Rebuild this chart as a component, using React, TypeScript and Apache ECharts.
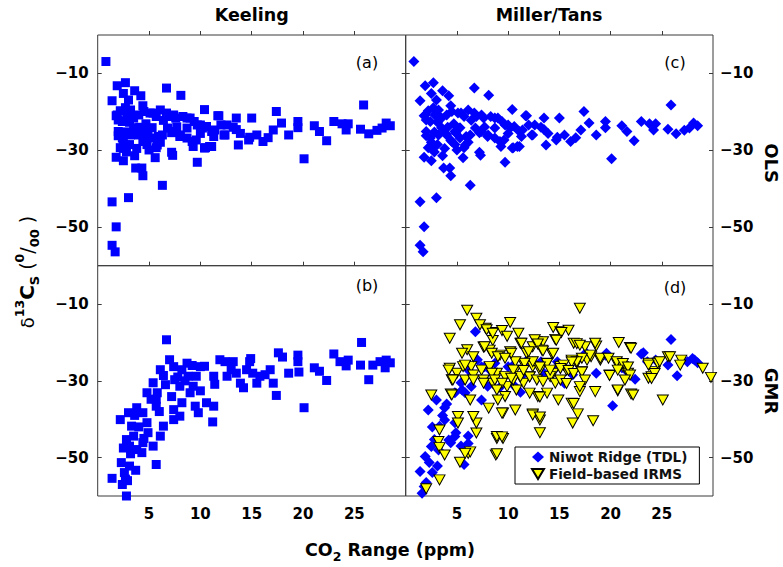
import React, { useEffect, useRef } from "react";
import * as echarts from "echarts";

const columnTitles = ["Keeling", "Miller/Tans"];
const rowTitles = ["OLS", "GMR"];
const panelLetters = ["(a)", "(b)", "(c)", "(d)"];
const xTicks = [5, 10, 15, 20, 25];
const yTicks = [-50, -30, -10];
const legendNames = ["Niwot Ridge (TDL)", "Field–based IRMS"];

// Panels (a) and (c): OLS estimates
const olsPoints: number[][] = [
  [0.8, -6.9], [1.4, -17.1], [1.9, -13.2], [2.7, -12.4], [2.5, -15.2], [3.6, -14.5], [4.2, -15.8], [4.4, -18.4],
  [6.7, -13.8], [8.1, -15.7], [3.0, -16.9], [2.0, -22.1], [1.8, -21], [1.4, -43.4], [3.0, -42.3], [1.8, -49.9],
  [1.4, -54.7], [1.7, -56.4], [6.3, -39.1], [4.3, -34.6], [4.4, -36.6], [3.7, -34.6], [1.8, -31.8], [2.5, -32.7],
  [3.6, -31.4], [5.6, -31.9], [7.2, -30.5], [7.3, -31.3], [9.7, -33.1], [10.4, -19.4], [11.7, -21], [13.5, -21.6],
  [15, -21.6], [17.4, -19.9], [17.9, -22.9], [18.6, -26], [19.5, -22.5], [19.5, -24.1], [20.1, -32.2], [21.1, -23.6],
  [21.6, -25.1], [22.3, -27.5], [23.0, -22.5], [23.8, -23.1], [24.4, -23.1], [24.2, -24.7], [25.9, -18.2], [25.6, -24.5],
  [26.4, -25.7], [27.2, -24.8], [27.7, -24.2], [28.1, -22.9], [28.5, -23.6], [15.5, -26], [16.1, -27.7], [16.6, -26.7],
  [17.1, -24.7], [14.7, -27.3], [14.8, -26.6], [13.5, -24.6], [13.7, -28.6], [13.9, -25.6], [13.2, -24], [12.6, -23.4],
  [12.4, -26], [11.4, -24.7], [11.3, -26.4], [10.9, -29], [10.4, -29.4], [10.0, -23.4], [10.0, -25.6], [9.6, -27.3],
  [9.3, -29], [9.0, -21.6], [8.7, -24.2], [8.3, -21.2], [8.0, -26.4], [7.7, -23.9], [7.4, -20.8], [7.2, -25.4],
  [6.7, -20.3], [6.4, -22.2], [6.1, -19.5], [5.7, -21.2], [5.4, -20.3], [5.3, -24.1], [4.9, -25.5], [5.9, -26.4],
  [6.1, -27.9], [5.7, -29.3], [5.0, -29.9], [4.8, -28.5], [4.4, -27.4], [3.9, -25.6], [3.5, -24.1], [3.1, -22.7],
  [2.8, -25.2], [2.5, -27.9], [2.2, -29.3], [2.0, -26.2], [2.5, -29.5], [3.1, -28.5], [2.8, -30.4], [3.8, -29.5],
  [4.1, -24], [4.7, -23.1], [2.2, -19.7], [2.7, -18.9], [3.0, -20.4], [1.9, -20.8], [2.4, -22.5], [2.85, -20.8],
  [3.2, -19.5], [3.5, -21.6], [4.0, -20.8], [4.5, -19.9], [5.1, -20.3], [6.9, -21.2], [7.6, -21.6], [8.7, -21.6],
  [9.4, -22.5], [9.7, -23.4], [10.2, -24.2], [10.6, -23.8], [2.0, -25.1], [2.4, -26.8], [2.7, -28.6], [3.2, -26],
  [4.0, -26], [4.5, -27.7], [4.8, -25.1], [5.3, -26.8], [5.8, -28.6], [6.3, -26], [6.8, -24.2], [7.4, -25.1],
  [8.05, -26], [8.7, -26.8], [9.2, -27.7], [11.8, -21], [12.0, -23.4], [12.3, -26], [11.1, -25.1], [10.5, -29.3],
  [11.1, -29],
];

// Panel (b): Keeling GMR
const keelingGmrPoints: number[][] = [
  [1.4, -55.4], [2.8, -60], [2.3, -51.3], [2.6, -53.9], [2.7, -55.6], [3.7, -53.3], [3.1, -52.2], [2.2, -40.1],
  [3.0, -38.3], [3.8, -37], [3.3, -41.8], [2.8, -45.3], [3.1, -47], [3.8, -47.9], [4.3, -48.7], [4.4, -46.1],
  [4.9, -43.5], [4.8, -40.9], [5.4, -47], [5.7, -51.8], [6.1, -44.4], [6.4, -41.8], [4.8, -33.1], [5.2, -34.8],
  [5.4, -30.5], [5.8, -33.1], [5.7, -36.6], [6.1, -27.1], [6.4, -28.6], [6.7, -19.3], [7.0, -24.5], [7.4, -26.3],
  [7.5, -29.7], [7.2, -34.1], [7.4, -37.5], [7.4, -40.1], [8.0, -39.2], [8.2, -35.7], [8.0, -31.4], [8.2, -27.1],
  [8.7, -25.4], [8.8, -28.8], [9.0, -33.1], [9.3, -31.4], [9.6, -28.8], [10.0, -26.3], [9.5, -36.6], [9.8, -38.3],
  [10.0, -32.6], [10.4, -26.2], [10.6, -35.7], [11.3, -36.6], [11.2, -40.7], [11.3, -28.8], [11.4, -30.9], [11.9, -24.5],
  [12.4, -25], [12.6, -28.8], [13.0, -27.1], [13.2, -25], [13.5, -28], [13.9, -30.6], [14.2, -31.8], [14.5, -27.1],
  [14.8, -25], [14.9, -24.2], [15.1, -28], [15.5, -30.6], [15.8, -28.8], [16.3, -28.4], [16.8, -27.1], [17.1, -30.6],
  [17.4, -33.8], [17.6, -22.7], [18.0, -23.8], [18.6, -28], [19.5, -23.3], [19.5, -25], [19.6, -27.7], [20.1, -37],
  [21.1, -26.6], [21.6, -27.5], [22.3, -29.9], [23.0, -23], [23.6, -25], [24.4, -24.6], [24.2, -26.1], [25.7, -20],
  [25.6, -25.9], [26.4, -29.7], [26.8, -25.9], [27.5, -25], [28.1, -24.6], [28.5, -25.3], [28.0, -26.6], [4.4, -38.3],
  [5.7, -34.8], [3.5, -44.4], [3.2, -49], [4.0, -42], [2.5, -47.5], [3.6, -39], [6.0, -38], [6.6, -31],
  [7.8, -29], [8.5, -30], [9.2, -26], [4.5, -45], [2.9, -56], [2.4, -57],
];

// Panel (d): Miller/Tans GMR, Niwot Ridge (TDL)
const millerGmrPoints: number[][] = [
  [1.4, -53.6], [1.6, -59.3], [1.9, -49.7], [2.5, -47.1], [2.2, -37.6], [3.0, -35], [3.8, -40.2], [4.2, -45.4],
  [4.8, -44.5], [5.5, -32.4], [6.8, -17.2], [6.1, -46.3], [7.4, -35], [6.4, -31.5], [7.7, -26.3], [25.9, -19.2],
  [23.2, -22.7], [20.2, -36.5], [26.5, -28.7], [28.2, -24.6], [28.0, -24.2], [22.4, -29.6], [19.6, -22.8],
  [2.3, -51.3], [2.6, -53.9], [3.1, -52.2], [2.8, -45.3], [3.3, -41.8], [3.8, -37], [4.4, -46.1], [4.9, -43.5],
  [4.8, -40.9], [5.4, -47], [5.7, -51.8], [6.1, -44.4], [4.8, -33.1], [5.4, -30.5], [5.8, -33.1], [6.1, -27.1],
  [7.0, -24.5], [7.4, -26.3], [8.0, -31.4], [8.2, -27.1], [8.7, -25.4], [9.3, -31.4], [10.0, -26.3], [10.4, -26.2],
  [11.3, -28.8], [11.9, -24.5], [12.4, -25], [13.2, -25], [13.5, -28], [14.5, -27.1], [14.8, -25], [15.5, -30.6],
  [16.3, -28.4], [17.6, -22.7], [18.6, -28], [19.5, -23.3], [21.1, -26.6], [21.6, -27.5], [23.0, -23], [23.6, -25],
  [24.4, -24.6], [25.6, -25.9], [27.5, -25], [28.5, -25.3], [2.0, -56.5], [3.6, -39], [2.6, -42], [3.2, -48],
  [1.8, -57.5], [4.0, -36], [11.2, -33], [10.5, -31],
];

// Panel (d): Field-based IRMS
const irmsPoints: number[][] = [
  [6.0, -11.6], [6.9, -13.7], [5.3, -15.4], [4.3, -18.9], [17.0, -11.1], [7.8, -16.3], [8.4, -17.4], [9.4, -16.9],
  [10.2, -14.8], [9.9, -18.4], [8.5, -19.5], [11.2, -20.2], [14.4, -16.1], [15.1, -17.2], [15.9, -16.8], [14.6, -19.2],
  [12.8, -19.8], [13.4, -19.8], [12.4, -21.1], [13.3, -22], [14.3, -23], [16.4, -20.2], [17.5, -21.1], [18.6, -20.9],
  [20.8, -20], [21.9, -21.3], [6.0, -21.9], [5.5, -22.8], [7.6, -21.2], [8.2, -22], [9.2, -23.3], [10.2, -22.4],
  [11.8, -22.8], [4.3, -26.7], [5.0, -28], [5.6, -26.3], [6.4, -26.3], [4.5, -29.7], [6.6, -28.5], [7.4, -27.2],
  [8.2, -26.3], [8.9, -28], [9.7, -28.9], [7.6, -29.8], [8.5, -30.6], [9.9, -31.5], [10.7, -27.2], [11.5, -25.6],
  [12.4, -26.3], [12.1, -28.9], [13.1, -27.2], [13.8, -25.4], [14.4, -28], [15.1, -26.3], [15.7, -27.2], [16.2, -24.6],
  [16.7, -25.4], [17.2, -27.6], [17.7, -24.6], [18.1, -23.7], [19.0, -24.6], [19.9, -28.5], [20.6, -25.4], [21.2, -26.3],
  [21.7, -28], [23.7, -25.4], [24.3, -27.6], [24.0, -28.9], [24.6, -25.4], [25.6, -23.7], [26.9, -24.6], [26.8, -25.9],
  [29.0, -26.7], [29.8, -29.1], [23.7, -29.3], [25.1, -35], [22.0, -33.4], [20.7, -32.6], [17.0, -32.8], [16.2, -35.8],
  [16.8, -38.6], [18.3, -40.4], [16.3, -41], [12.9, -34.1], [13.8, -33.2], [12.4, -38.6], [13.1, -40.2], [13.1, -43.5],
  [10.7, -37.6], [9.5, -38.4], [8.9, -45], [9.5, -45], [8.8, -49.3], [6.9, -43.6], [6.9, -41], [6.6, -39.3],
  [5.1, -39.3], [5.1, -41], [6.1, -48.9], [6.3, -48.5], [5.3, -51.2], [3.3, -42.8], [3.2, -45.8], [3.3, -47.4],
  [3.8, -49.3], [2.5, -33.7], [4.4, -33.4], [3.3, -55.8], [2.0, -58.1], [11.0, -17.6], [11.3, -20.2], [15.2, -17.4],
  [14.7, -19.4], [12.6, -19.3], [12.9, -20.4], [12.0, -22.4], [13.4, -22.2], [14.4, -22.8], [16.7, -20.3], [17.0, -20.7],
  [18.5, -20.2], [18.0, -23.3], [19.0, -24.1], [17.2, -24.1], [16.7, -25], [16.2, -25.1], [15.4, -25.9], [15.1, -26.8],
  [15.9, -27.3], [16.4, -28.1], [17.2, -27.7], [17.5, -29.8], [17.0, -31.5], [18.5, -32.8], [14.9, -35], [16.4, -35.9],
  [12.4, -38.9], [13.1, -39.4], [13.1, -34.2], [12.1, -33.2], [11.5, -30.6], [10.8, -32.4], [10.5, -29.8], [11.2, -28.9],
  [12.1, -29], [12.8, -29.8], [13.4, -30.2], [14.1, -28.9], [14.6, -30.6], [15.1, -29.8], [15.7, -30.7], [13.8, -25.5],
  [14.1, -27.2], [13.1, -26.4], [12.4, -25], [11.6, -25.4], [10.7, -25], [10.5, -27.2], [11.5, -27.3], [10.3, -22.8],
  [22.0, -21.5], [19.8, -24.1], [20.6, -25], [21.2, -25.5], [21.7, -26.4], [19.9, -28.6], [20.7, -27.2], [21.9, -28.5],
  [21.4, -29.8], [20.7, -32.4], [22.2, -33.7], [23.7, -25.9], [24.8, -25], [25.8, -23.7], [24.3, -28.1], [24.0, -29.4],
  [7.25, -15.4], [7.9, -16.7], [8.5, -17.6], [7.7, -21.1], [6.6, -23.7], [8.4, -22.8], [9.0, -23.7], [9.7, -24.1],
  [5.8, -25.9], [4.2, -27.2], [4.6, -29.8], [5.8, -29.8], [6.6, -29.8], [7.6, -30.6], [8.4, -28], [8.7, -29.8],
  [9.4, -30.6], [10.3, -29.3], [8.9, -32.4], [9.7, -34.1], [9.0, -35], [8.1, -37.1], [9.4, -38.4], [4.5, -33.7],
  [6.3, -35], [5.8, -48.9], [8.9, -44.5], [9.4, -44.6], [8.9, -49],
];

const FONT = "DejaVu Sans";
const LEFT = 97.7;
const MIDX = 405.7;
const RIGHT = 713;
const TOP = 35;
const MIDY = 265.7;
const BOTTOM = 496;

const fmtMinus = (v: number) => (v < 0 ? "\u2212" + Math.abs(v) : String(v));

export default function App() {
  const ref = useRef<HTMLDivElement>(null);

  useEffect(() => {
    if (!ref.current) return;
    const chart = echarts.init(ref.current, undefined, { renderer: "svg" });

    const grids = [
      { left: LEFT, top: TOP, width: MIDX - LEFT, height: MIDY - TOP },
      { left: LEFT, top: MIDY, width: MIDX - LEFT, height: BOTTOM - MIDY },
      { left: MIDX, top: TOP, width: RIGHT - MIDX, height: MIDY - TOP },
      { left: MIDX, top: MIDY, width: RIGHT - MIDX, height: BOTTOM - MIDY },
    ].map((g) => ({
      ...g,
      show: true,
      borderColor: "#3a3a3a",
      borderWidth: 1,
      backgroundColor: "transparent",
      containLabel: false,
    }));

    const tickStyle = { color: "#3a3a3a", width: 1 };
    const labelStyle = {
      fontFamily: FONT,
      fontWeight: "bold" as const,
      fontSize: 15,
      color: "#000",
    };

    const xAxes = [0, 1, 2, 3].map((i) => ({
      type: "value" as const,
      gridIndex: i,
      min: 0,
      max: 30,
      position: "bottom" as const,
      axisLine: { show: false },
      splitLine: { show: false },
      axisTick: { show: true, inside: true, length: 4, customValues: xTicks, lineStyle: tickStyle },
      axisLabel: {
        show: i === 1 || i === 3,
        customValues: xTicks,
        margin: 10,
        ...labelStyle,
      },
    }));

    const yAxes: any[] = [];
    [0, 1, 2, 3].forEach((i) => {
      (["left", "right"] as const).forEach((pos) => {
        const showLabel = (i < 2 && pos === "left") || (i >= 2 && pos === "right");
        yAxes.push({
          type: "value",
          gridIndex: i,
          min: -60,
          max: 0,
          position: pos,
          axisLine: { show: false },
          splitLine: { show: false },
          axisTick: { show: true, inside: true, length: 4, customValues: yTicks, lineStyle: tickStyle },
          axisLabel: {
            show: showLabel,
            customValues: yTicks,
            margin: pos === "left" ? 9 : 7,
            formatter: fmtMinus,
            ...labelStyle,
          },
        });
      });
    });

    const blue = "#0000ff";
    const blueStyle = { color: blue, opacity: 1 };
    const series: any[] = [
      {
        name: "Keeling OLS",
        type: "scatter",
        xAxisIndex: 0,
        yAxisIndex: 0,
        data: olsPoints,
        symbol: "rect",
        symbolSize: 9,
        clip: false,
        itemStyle: blueStyle,
      },
      {
        name: "Keeling GMR",
        type: "scatter",
        xAxisIndex: 1,
        yAxisIndex: 2,
        data: keelingGmrPoints,
        symbol: "rect",
        symbolSize: 9,
        clip: false,
        itemStyle: blueStyle,
      },
      {
        name: "Miller/Tans OLS",
        type: "scatter",
        xAxisIndex: 2,
        yAxisIndex: 4,
        data: olsPoints,
        symbol: "diamond",
        symbolSize: 11,
        clip: false,
        itemStyle: blueStyle,
      },
      {
        name: legendNames[0],
        type: "scatter",
        xAxisIndex: 3,
        yAxisIndex: 6,
        data: millerGmrPoints,
        symbol: "diamond",
        symbolSize: 11,
        clip: false,
        itemStyle: blueStyle,
      },
      {
        name: legendNames[1],
        type: "scatter",
        xAxisIndex: 3,
        yAxisIndex: 6,
        data: irmsPoints,
        symbol: "triangle",
        symbolRotate: 180,
        symbolSize: [11, 10],
        clip: false,
        itemStyle: { color: "#ffff00", borderColor: "#000", borderWidth: 1, opacity: 1 },
      },
    ];

    const titleStyle = { fontFamily: FONT, fontWeight: "bold", fontSize: 17.5, fill: "#000" };
    const letterStyle = { fontFamily: FONT, fontWeight: "normal", fontSize: 16, fill: "#000" };
    const letterPos = [
      [367, 62],
      [367, 285],
      [675, 62],
      [675, 287],
    ];

    const graphic: any[] = [
      {
        type: "text",
        x: (LEFT + MIDX) / 2,
        y: 15,
        style: { ...titleStyle, text: columnTitles[0], align: "center", verticalAlign: "middle" },
      },
      {
        type: "text",
        x: 549,
        y: 15,
        style: { ...titleStyle, text: columnTitles[1], align: "center", verticalAlign: "middle" },
      },
      {
        type: "text",
        x: 771,
        y: 163,
        rotation: -Math.PI / 2,
        style: { ...titleStyle, fontSize: 18, text: rowTitles[0], align: "center", verticalAlign: "middle" },
      },
      {
        type: "text",
        x: 771,
        y: 391,
        rotation: -Math.PI / 2,
        style: { ...titleStyle, fontSize: 18, text: rowTitles[1], align: "center", verticalAlign: "middle" },
      },
      ...panelLetters.map((t, i) => ({
        type: "text",
        x: letterPos[i][0],
        y: letterPos[i][1],
        style: { ...letterStyle, text: t, align: "center", verticalAlign: "middle" },
      })),
      {
        type: "text",
        x: 390,
        y: 550,
        style: {
          text: "{b|CO}{s|2}{b| Range (ppm)}",
          align: "center",
          verticalAlign: "middle",
          fill: "#000",
          rich: {
            b: { fontFamily: FONT, fontWeight: "bold", fontSize: 17.5, lineHeight: 26, verticalAlign: "middle", fill: "#000" },
            s: { fontFamily: FONT, fontWeight: "bold", fontSize: 12.5, lineHeight: 12, verticalAlign: "bottom", fill: "#000" },
          },
        },
      },
      {
        type: "text",
        x: 27,
        y: 272,
        rotation: Math.PI / 2,
        style: {
          text: "{d|δ}{sup|13}{c|C}{sub|S}{p| (}{sup|0}{p|/}{sub|00}{p| )}",
          align: "center",
          verticalAlign: "middle",
          fill: "#000",
          rich: {
            d: { fontFamily: FONT, fontWeight: "normal", fontSize: 18, lineHeight: 28, verticalAlign: "middle", fill: "#000" },
            c: { fontFamily: FONT, fontWeight: "bold", fontSize: 20, lineHeight: 28, verticalAlign: "middle", fill: "#000" },
            p: { fontFamily: FONT, fontWeight: "normal", fontSize: 19, lineHeight: 28, verticalAlign: "middle", fill: "#000" },
            sup: { fontFamily: FONT, fontWeight: "bold", fontSize: 12.5, lineHeight: 14, verticalAlign: "top", fill: "#000" },
            sub: { fontFamily: FONT, fontWeight: "bold", fontSize: 13, lineHeight: 14, verticalAlign: "bottom", fill: "#000" },
          },
        },
      },
    ];

    chart.setOption({
      animation: false,
      backgroundColor: "#fff",
      grid: grids,
      xAxis: xAxes,
      yAxis: yAxes,
      series,
      legend: {
        data: [
          { name: legendNames[0], icon: "diamond" },
          { name: legendNames[1], icon: "path://M0,0L12,0L6,10Z" },
        ],
        left: 515,
        top: 447,
        orient: "vertical",
        backgroundColor: "#fff",
        borderColor: "#000",
        borderWidth: 1,
        borderRadius: 0,
        padding: [3, 12, 3, 16],
        itemGap: 3,
        itemWidth: 12,
        itemHeight: 11,
        selectedMode: false,
        textStyle: { fontFamily: FONT, fontWeight: "bold", fontSize: 13.5, color: "#111" },
      },
      graphic,
    });

    return () => chart.dispose();
  }, []);

  return (
    <div
      ref={ref}
      style={{ position: "fixed", left: 0, top: 0, width: 783, height: 567, background: "#fff" }}
    />
  );
}
